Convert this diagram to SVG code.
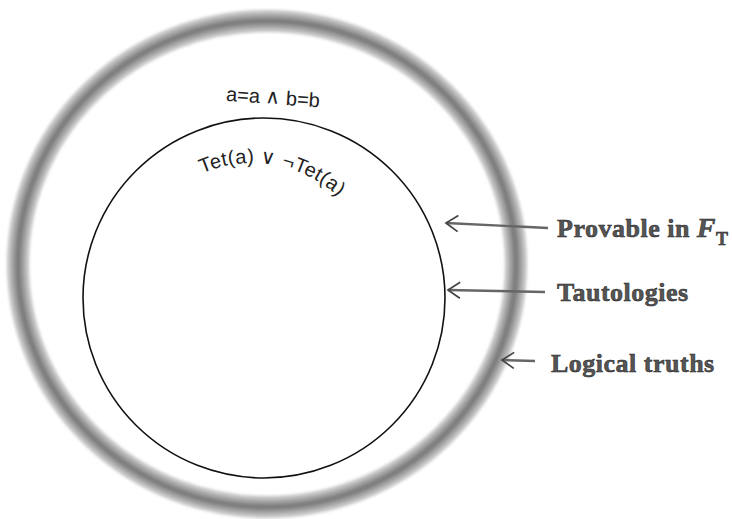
<svg xmlns="http://www.w3.org/2000/svg" width="732" height="519" viewBox="0 0 732 519">
<style>
.ring1{fill:none;stroke:#c4c4c4;stroke-width:22}
.ring2{fill:none;stroke:#a0a0a0;stroke-width:14}
.ring3{fill:none;stroke:#7e7e7e;stroke-width:6}
.inner{fill:none;stroke:#111;stroke-width:1.6}
.sans{font-family:"Liberation Sans",Arial,sans-serif;font-size:20px;fill:#222}
.lbl{font-family:"Liberation Serif","Times New Roman",serif;font-size:26px;font-weight:bold;letter-spacing:0.5px;fill:#555;stroke:#222;stroke-width:0.5}
.conn{fill:none;stroke:#666;stroke-width:2.4}
.head{fill:none;stroke:#444;stroke-width:1.7}
</style>
<defs>
<marker id="v" viewBox="0 0 16 18" refX="14" refY="9" markerWidth="16" markerHeight="18" markerUnits="userSpaceOnUse" orient="auto">
<path class="head" d="M2,1 L14,9 L2,17"/>
</marker>
<filter id="soft" x="-5%" y="-5%" width="110%" height="110%"><feGaussianBlur stdDeviation="1.6"/></filter>
<path id="arc" d="M125,290 A127,127 0 0 1 379,290"/>
</defs>
<rect width="732" height="519" fill="#fff"/>
<g id="logical-truths">
<g filter="url(#soft)">
<ellipse class="ring1" cx="267" cy="264" rx="249" ry="243"/>
<ellipse class="ring2" cx="267" cy="264" rx="249" ry="243"/>
<ellipse class="ring3" cx="267" cy="264" rx="249" ry="243"/>
</g>
<text class="sans" x="273" y="104" text-anchor="middle" transform="rotate(4 273 98)">a=a ∧ b=b</text>
</g>
<g id="tautologies">
<ellipse class="inner" cx="264" cy="298" rx="181" ry="180"/>
<text class="sans" font-size="21" letter-spacing="0.4"><textPath href="#arc" startOffset="55.5%" text-anchor="middle">Tet(a) ∨ ¬Tet(a)</textPath></text>
</g>
<g id="connectors">
<line class="conn" x1="548" y1="228" x2="446" y2="223" marker-end="url(#v)"/>
<line class="conn" x1="545" y1="292" x2="448" y2="290" marker-end="url(#v)"/>
<line class="conn" x1="535" y1="361" x2="502" y2="360" marker-end="url(#v)"/>
</g>
<g id="label-provable">
<text class="lbl" x="557" y="237">Provable in <tspan font-style="italic" font-size="28">F</tspan><tspan font-size="18" dy="8">T</tspan></text>
</g>
<g id="label-tautologies">
<text class="lbl" x="557" y="301">Tautologies</text>
</g>
<g id="label-logical">
<text class="lbl" x="551" y="372">Logical truths</text>
</g>
</svg>
